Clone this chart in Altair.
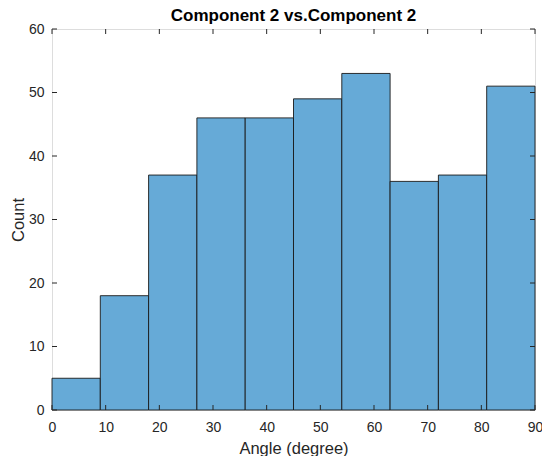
import altair as alt
import pandas as pd

bin_start = [0, 9, 18, 27, 36, 45, 54, 63, 72, 81]
bin_end = [9, 18, 27, 36, 45, 54, 63, 72, 81, 90]
counts = [5, 18, 37, 46, 46, 49, 53, 36, 37, 51]
x_ticks = [0, 10, 20, 30, 40, 50, 60, 70, 80, 90]
y_ticks = [0, 10, 20, 30, 40, 50, 60]

W, H = 483, 381
df = pd.DataFrame({"start": bin_start, "end": bin_end, "count": counts})
xt = pd.DataFrame({"v": x_ticks})
yt = pd.DataFrame({"v": y_ticks})

xs = alt.Scale(domain=[0, 90], nice=False, zero=False)
ys = alt.Scale(domain=[0, 60], nice=False)

font = "Liberation Sans"
axcol = "#262626"

bars = alt.Chart(df).mark_rect(
    fill="#66AAD7", stroke="#1a1a1a", strokeWidth=0.9
).encode(
    x=alt.X("start:Q", scale=xs, axis=alt.Axis(
        values=x_ticks, title="Angle (degree)", grid=False, ticks=False,
        domain=False, labelFontSize=14, labelColor=axcol, labelPadding=10,
        titleFontSize=16.5, titleFontWeight="normal", titleColor=axcol,
        titleBaseline="alphabetic", titleX=W / 2, titleY=43,
        labelFont=font, titleFont=font, labelFlush=False)),
    x2="end:Q",
    y=alt.Y("count:Q", scale=ys, axis=alt.Axis(
        values=y_ticks, title="Count", grid=False, ticks=False,
        domain=False, labelFontSize=14, labelColor=axcol, labelPadding=8,
        titleFontSize=16.5, titleFontWeight="normal", titleColor=axcol,
        titleBaseline="alphabetic", titleX=-29, titleY=H / 2,
        labelFont=font, titleFont=font)),
    y2=alt.datum(0),
)

tick_len = 5
xb = alt.Chart(xt).mark_rule(color=axcol, strokeWidth=1).encode(
    x=alt.X("v:Q", scale=xs), y=alt.value(H), y2=alt.value(H - tick_len))
xtop = alt.Chart(xt).mark_rule(color=axcol, strokeWidth=1).encode(
    x=alt.X("v:Q", scale=xs), y=alt.value(0), y2=alt.value(tick_len))
yl = alt.Chart(yt).mark_rule(color=axcol, strokeWidth=1).encode(
    y=alt.Y("v:Q", scale=ys), x=alt.value(0), x2=alt.value(tick_len))
yr = alt.Chart(yt).mark_rule(color=axcol, strokeWidth=1).encode(
    y=alt.Y("v:Q", scale=ys), x=alt.value(W), x2=alt.value(W - tick_len))

chart = alt.layer(bars, xb, xtop, yl, yr).properties(
    width=W, height=H,
    title=alt.TitleParams("Component 2 vs.Component 2", fontSize=17,
                          fontWeight="bold", font=font, color="#000000",
                          offset=4, dy=7),
    autosize=alt.AutoSizeParams(type="none"),
    padding={"left": 44, "top": 21, "right": 7, "bottom": 46},
).configure_view(stroke=axcol, strokeWidth=1).configure(background="white")

chart.save("out.html", embed_options={"renderer": "svg", "actions": False})
